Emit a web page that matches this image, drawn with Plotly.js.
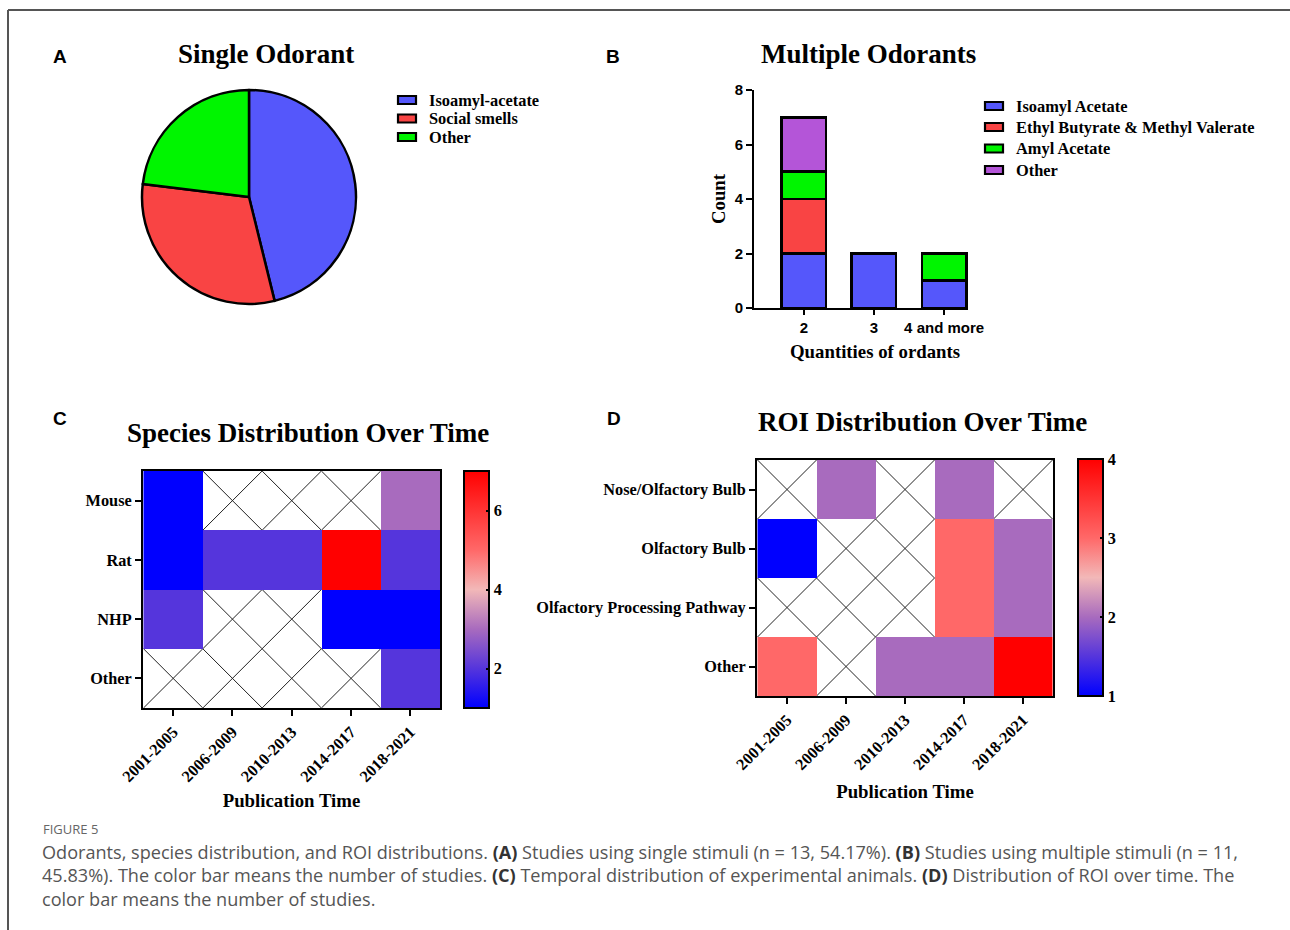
<!DOCTYPE html>
<html>
<head>
<meta charset="utf-8">
<script src="https://cdn.plot.ly/plotly-3.0.1.min.js"></script>
<style>html,body{margin:0;padding:0;background:#fff;}#chart{width:1290px;height:930px;}</style>
</head>
<body>
<div id="chart"></div>
<script>
// ---------- DATA ----------
const pieLabels = ['Isoamyl-acetate', 'Social smells', 'Other'];
const pieValues = [6, 4, 3];

const barCategories = ['2', '3', '4 and more'];
const barSeriesNames = ['Isoamyl Acetate', 'Ethyl Butyrate & Methyl Valerate', 'Amyl Acetate', 'Other'];
const isoamylAcetate = [2, 2, 1];
const ethylButyrateMethylValerate = [2, 0, 0];
const amylAcetate = [1, 0, 1];
const otherOdorants = [2, 0, 0];

const periods = ['2001-2005', '2006-2009', '2010-2013', '2014-2017', '2018-2021'];
const species = ['Mouse', 'Rat', 'NHP', 'Other'];
const speciesCounts = [
  [1, null, null, null, 3],
  [1, 2, 2, 7, 2],
  [2, null, null, 1, 1],
  [null, null, null, null, 2]
];
const roiRegions = ['Nose/Olfactory Bulb', 'Olfactory Bulb', 'Olfactory Processing Pathway', 'Other'];
const roiCounts = [
  [null, 2, null, 2, null],
  [1, null, null, 3, 2],
  [null, null, null, 3, 2],
  [3, null, 2, 2, 4]
];
const speciesTicks = [2, 4, 6];
const roiTicks = [1, 2, 3, 4];

// ---------- STYLE ----------
const W = 1290, H = 930;
const px = v => v / W;
const py = v => 1 - v / H;
const serif = 'Liberation Serif, Times New Roman, serif';
const sans = 'Liberation Sans, Arial, sans-serif';
const cBlue = '#5557FB', cRed = '#F94444', cGreen = '#00F500', cPurple = '#B455D8';
const heatScale = [
  [0, '#0000FF'], [0.1667, '#5535DC'], [0.3333, '#A86BBE'],
  [0.5, '#F2B8B8'], [0.6667, '#FF6868'], [1, '#FF0000']
];
const tickFont = {family: serif, size: 16.3, color: '#000', weight: 'bold'};
const titleFont = {family: serif, size: 18.8, color: '#000', weight: 'bold'};
const legendFont = {family: serif, size: 16.4, color: '#000', weight: 'bold'};

const traces = [];
traces.push({
  type: 'pie', labels: pieLabels, values: pieValues, sort: false, direction: 'clockwise',
  rotation: 0, textinfo: 'none', hoverinfo: 'label+value', showlegend: false,
  marker: {colors: [cBlue, cRed, cGreen], line: {color: '#000', width: 2.5}},
  domain: {x: [px(142), px(356)], y: [py(304), py(90)]}
});
const barVals = [isoamylAcetate, ethylButyrateMethylValerate, amylAcetate, otherOdorants];
const barColors = [cBlue, cRed, cGreen, cPurple];
barVals.forEach((v, i) => {
  traces.push({
    type: 'bar', x: barCategories, y: v, name: barSeriesNames[i], xaxis: 'x', yaxis: 'y', showlegend: false,
    marker: {color: barColors[i], line: {color: '#000', width: 2.8}}
  });
});
const cbCommon = {len: 237, lenmode: 'pixels', thickness: 25, xpad: 0, ypad: 0, outlinewidth: 2, outlinecolor: '#000',
  ticks: 'inside', ticklen: 4, tickwidth: 2, tickcolor: '#000', tickfont: tickFont, tickprefix: '\u00a0\u00a0'};
traces.push({
  type: 'heatmap', x: periods, y: species, z: speciesCounts, xaxis: 'x2', yaxis: 'y2',
  colorscale: heatScale, zmin: 1, zmax: 7, showlegend: false, hoverongaps: false,
  colorbar: Object.assign({x: px(464), xanchor: 'left', y: py(471), yanchor: 'top', tickvals: speciesTicks}, cbCommon)
});
traces.push({
  type: 'heatmap', x: periods, y: roiRegions, z: roiCounts, xaxis: 'x3', yaxis: 'y3',
  colorscale: heatScale, zmin: 1, zmax: 4, showlegend: false, hoverongaps: false,
  colorbar: Object.assign({x: px(1078), xanchor: 'left', y: py(459), yanchor: 'top', tickvals: roiTicks}, cbCommon)
});

// crossed-out empty cells
const shapes = [];
function crossEmpty(z, xr, yr) {
  z.forEach((row, i) => row.forEach((v, j) => {
    if (v === null) {
      shapes.push({type: 'line', xref: xr, yref: yr, x0: j - 0.5, x1: j + 0.5, y0: i - 0.5, y1: i + 0.5, line: {color: '#222', width: 1}, layer: 'below'});
      shapes.push({type: 'line', xref: xr, yref: yr, x0: j - 0.5, x1: j + 0.5, y0: i + 0.5, y1: i - 0.5, line: {color: '#222', width: 1}, layer: 'below'});
    }
  }));
}
crossEmpty(speciesCounts, 'x2', 'y2');
crossEmpty(roiCounts, 'x3', 'y3');
// frame
shapes.push({type: 'line', xref: 'paper', yref: 'paper', x0: px(8), x1: 1, y0: py(10), y1: py(10), line: {color: '#555', width: 2}});
shapes.push({type: 'line', xref: 'paper', yref: 'paper', x0: px(8), x1: px(8), y0: py(10), y1: 0, line: {color: '#555', width: 2}});

const ann = [];
const addText = (x, y, text, font, xanchor) => ann.push({xref: 'paper', yref: 'paper', x: px(x), y: py(y), text: text, showarrow: false, font: font, xanchor: xanchor || 'center', yanchor: 'middle'});

// legends (wide rectangular keys like the original)
function legendBlock(names, colors, keyX, textX, rowsY) {
  names.forEach((n, i) => {
    const yc = rowsY[i];
    shapes.push({type: 'rect', xref: 'paper', yref: 'paper', x0: px(keyX), x1: px(keyX + 18), y0: py(yc + 4), y1: py(yc - 4),
      fillcolor: colors[i], line: {color: '#000', width: 2.2}});
    addText(textX, yc, n, legendFont, 'left');
  });
}
legendBlock(pieLabels, [cBlue, cRed, cGreen], 398, 427, [100, 118.5, 137]);
legendBlock(barSeriesNames, barColors, 985, 1014, [106, 127, 148.5, 170]);

const heatAxisX = (dom, anchor, standoff) => ({
  domain: dom, anchor: anchor, type: 'category', showline: true, mirror: true, linewidth: 2, linecolor: '#000',
  ticks: 'outside', ticklen: 6, tickwidth: 2, tickcolor: '#000', tickangle: -45, tickfont: tickFont,
  showgrid: false, zeroline: false, automargin: false, fixedrange: true,
  title: {text: 'Publication Time', font: titleFont, standoff: standoff}
});
const heatAxisY = (dom, anchor, n) => ({
  domain: dom, anchor: anchor, type: 'category', showline: true, mirror: true, linewidth: 2, linecolor: '#000',
  ticks: 'outside', ticklen: 6, tickwidth: 2, tickcolor: '#000', tickfont: tickFont,
  range: [n - 0.5, -0.5], showgrid: false, zeroline: false, automargin: false, fixedrange: true
});

const letterFont = {family: sans, size: 19, color: '#000', weight: 'bold'};
const panelTitle = {family: serif, size: 27, color: '#000', weight: 'bold'};
addText(60, 57, 'A', letterFont);
addText(613, 57, 'B', letterFont);
addText(60, 418, 'C', letterFont);
addText(614, 418, 'D', letterFont);
addText(266, 54, 'Single Odorant', panelTitle);
addText(868, 54, 'Multiple Odorants', panelTitle);
addText(308, 433, 'Species Distribution Over Time', panelTitle);
addText(922, 422, 'ROI Distribution Over Time', panelTitle);
addText(875, 352, 'Quantities of ordants', titleFont);
const capFamily = 'Open Sans, Noto Sans, sans-serif';
const capFont = {family: capFamily, size: 18.1, color: '#555'};
addText(41, 829, 'FIGURE 5', {family: capFamily, size: 13, color: '#666'}, 'left');
const bc = s => '<b><span style="color:#333">' + s + '</span></b>';
addText(40, 852, 'Odorants, species distribution, and ROI distributions. ' + bc('(A)') + ' Studies using single stimuli (n = 13, 54.17%). ' + bc('(B)') + ' Studies using multiple stimuli (n = 11,', capFont, 'left');
addText(40, 875, '45.83%). The color bar means the number of studies. ' + bc('(C)') + ' Temporal distribution of experimental animals. ' + bc('(D)') + ' Distribution of ROI over time. The', capFont, 'left');
addText(40, 899, 'color bar means the number of studies.', capFont, 'left');

const layout = {
  width: W, height: H, margin: {l: 0, r: 0, t: 0, b: 0}, paper_bgcolor: '#fff', plot_bgcolor: 'rgba(0,0,0,0)',
  barmode: 'stack', bargap: 0.37, showlegend: false,
  xaxis: {domain: [px(754), px(968)], anchor: 'y', type: 'category', range: [-0.71, 2.34], showline: true, linewidth: 2, linecolor: '#000',
    ticks: 'outside', ticklen: 5, tickwidth: 2, tickcolor: '#000', tickfont: {family: sans, size: 15, color: '#000', weight: 'bold'},
    showgrid: false, zeroline: false, automargin: false, fixedrange: true},
  yaxis: {domain: [py(308), py(90)], anchor: 'x', range: [0, 8], tickvals: [0, 2, 4, 6, 8], showline: true, linewidth: 2, linecolor: '#000',
    ticks: 'outside', ticklen: 6, tickwidth: 2, tickcolor: '#000', tickfont: {family: sans, size: 15, color: '#000', weight: 'bold'},
    showgrid: false, zeroline: false, automargin: false, fixedrange: true,
    title: {text: 'Count', font: titleFont, standoff: 4}},
  xaxis2: heatAxisX([px(143), px(440)], 'y2', 9),
  yaxis2: heatAxisY([py(708), py(471)], 'x2', species.length),
  xaxis3: heatAxisX([px(757), px(1053)], 'y3', 12),
  yaxis3: heatAxisY([py(696), py(460)], 'x3', roiRegions.length),
  shapes: shapes, annotations: ann
};

Plotly.newPlot('chart', traces, layout, {displayModeBar: false, staticPlot: true});
</script>
</body>
</html>
